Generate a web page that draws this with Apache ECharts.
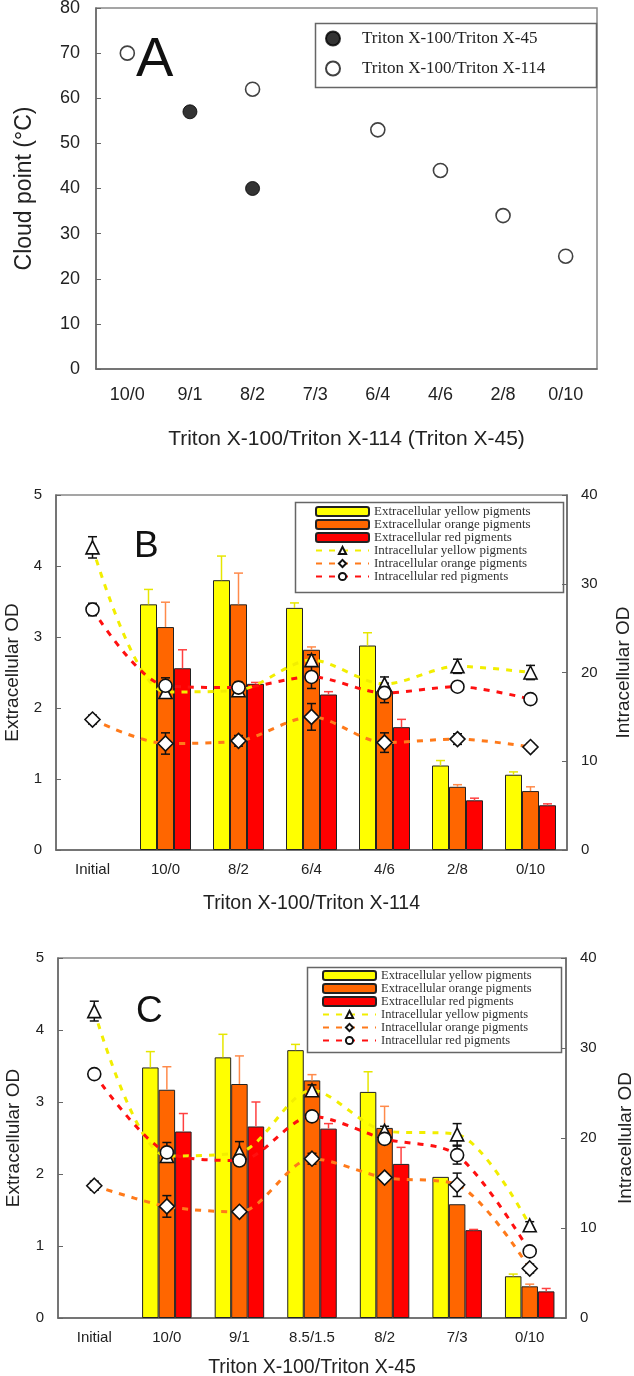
<!DOCTYPE html>
<html>
<head>
<meta charset="utf-8">
<script src="https://cdn.jsdelivr.net/npm/echarts@6/dist/echarts.min.js"></script>
<style>
html,body{margin:0;padding:0;background:#fff;}
#chart{width:634px;height:1376px;}
</style>
</head>
<body>
<div id="chart"></div>
<script>
// ---------- Panel A ----------
const catsA = ['10/0','9/1','8/2','7/3','6/4','4/6','2/8','0/10'];
const cloudX45  = [null, 57, 40, null, null, null, null, null];
const cloudX114 = [70, null, 62, null, 53, 44, 34, 25];

// ---------- Panel B ----------
const catsB = ['Initial','10/0','8/2','6/4','4/6','2/8','0/10'];
const bExtYellow    = [null, 3.46, 3.80, 3.41, 2.88, 1.19, 1.06];
const bExtYellowErr = [null, 0.21, 0.34, 0.07, 0.18, 0.07, 0.04];
const bExtOrange    = [null, 3.14, 3.46, 2.82, 2.24, 0.89, 0.83];
const bExtOrangeErr = [null, 0.35, 0.44, 0.04, 0.05, 0.03, 0.06];
const bExtRed       = [null, 2.56, 2.34, 2.19, 1.73, 0.70, 0.63];
const bExtRedErr    = [null, 0.26, 0.02, 0.04, 0.11, 0.03, 0.02];
const bIntYellow    = [34.1, 17.8, 18.0, 21.4, 18.7, 20.7, 20.0];
const bIntYellowErr = [1.2, 0.6, 0.5, 0.6, 0.8, 0.8, 0.8];
const bIntOrange    = [14.7, 12.0, 12.3, 15.0, 12.1, 12.5, 11.6];
const bIntOrangeErr = [0.5, 1.2, 0.6, 1.5, 1.1, 0.6, 0.4];
const bIntRed       = [27.1, 18.5, 18.3, 19.5, 17.7, 18.4, 17.0];
const bIntRedErr    = [0.7, 0.9, 0.6, 1.3, 1.1, 0.5, 0.4];

// ---------- Panel C ----------
const catsC = ['Initial','10/0','9/1','8.5/1.5','8/2','7/3','0/10'];
const cExtYellow    = [null, 3.48, 3.62, 3.72, 3.14, 1.96, 0.58];
const cExtYellowErr = [null, 0.22, 0.32, 0.08, 0.28, 0, 0.03];
const cExtOrange    = [null, 3.17, 3.25, 3.30, 2.64, 1.58, 0.44];
const cExtOrangeErr = [null, 0.32, 0.39, 0.08, 0.30, 0, 0.03];
const cExtRed       = [null, 2.59, 2.66, 2.63, 2.14, 1.22, 0.37];
const cExtRedErr    = [null, 0.25, 0.34, 0.07, 0.23, 0.01, 0.04];
const cIntYellow    = [34.1, 18.0, 18.4, 25.3, 20.8, 20.4, 10.3];
const cIntYellowErr = [1.1, 0.5, 1.2, 0.6, 0.5, 1.2, 0.4];
const cIntOrange    = [14.7, 12.4, 11.8, 17.7, 15.6, 14.8, 5.5];
const cIntOrangeErr = [0.5, 1.2, 0.4, 0.6, 0.4, 1.3, 0.5];
const cIntRed       = [27.1, 18.4, 17.5, 22.4, 19.9, 18.1, 7.4];
const cIntRedErr    = [0.4, 1.1, 0.5, 0.5, 0.5, 1.0, 0.5];

const legendNamesA = ['Triton X-100/Triton X-45', 'Triton X-100/Triton X-114'];
const legendNamesBC = ['Extracellular yellow pigments','Extracellular orange pigments','Extracellular red pigments',
  'Intracellular yellow pigments','Intracellular orange pigments','Intracellular red pigments'];

// ---------- styling ----------
const SANS = 'Liberation Sans, Arial, sans-serif';
const SERIF = 'Liberation Serif, Times New Roman, serif';
const TXT = '#222';
const AX = '#666';
const COL_Y = '#ffff00', COL_O = '#ff6600', COL_R = '#ff0000';
const LINE_Y = '#f2ee00', LINE_O = '#ff7a1a', LINE_R = '#ff1010';
const ERR_Y = '#e6e600', ERR_O = '#ff8a4a', ERR_R = '#ff4040';
const BW_B = 17, BW_C = 16.5;

function errData(vals, errs) {
  const out = [];
  vals.forEach((v, i) => { if (v != null && errs[i]) out.push([i, v, errs[i]]); });
  return out;
}
function errRender(offset, color, both, capW) {
  return function (params, api) {
    const x = api.value(0), v = api.value(1), e = api.value(2);
    const top = api.coord([x, v + e]);
    const mid = api.coord([x, v]);
    const bot = api.coord([x, both ? v - e : v]);
    const cx = mid[0] + offset;
    const st = { stroke: color, lineWidth: 1.5 };
    const ch = [
      { type: 'line', shape: { x1: cx, y1: bot[1], x2: cx, y2: top[1] }, style: st },
      { type: 'line', shape: { x1: cx - capW / 2, y1: top[1], x2: cx + capW / 2, y2: top[1] }, style: st }
    ];
    if (both) ch.push({ type: 'line', shape: { x1: cx - capW / 2, y1: bot[1], x2: cx + capW / 2, y2: bot[1] }, style: st });
    return { type: 'group', children: ch };
  };
}

function catAxis(gridIndex, cats, fontSize, margin, name, nameGap, nameSize) {
  return {
    type: 'category', gridIndex, data: cats, boundaryGap: true,
    axisLine: { lineStyle: { color: AX, width: 1.5 } },
    axisTick: { inside: true, length: 5, lineStyle: { color: AX } },
    axisLabel: { color: TXT, fontFamily: SANS, fontSize, margin },
    name, nameLocation: 'middle', nameGap,
    nameTextStyle: { color: TXT, fontFamily: SANS, fontSize: nameSize }
  };
}
function valAxis(gridIndex, pos, min, max, interval, fontSize, margin, name, nameGap, nameSize) {
  return {
    type: 'value', gridIndex, position: pos, min, max, interval,
    axisLine: { show: true, lineStyle: { color: AX, width: 1.5 } },
    axisTick: { show: true, inside: true, length: 5, lineStyle: { color: AX } },
    axisLabel: { color: TXT, fontFamily: SANS, fontSize, margin },
    splitLine: { show: false },
    name, nameLocation: 'middle', nameGap, nameRotate: 90,
    nameTextStyle: { color: TXT, fontFamily: SANS, fontSize: nameSize }
  };
}

function panelSeries(xi, yl, yr, bw, d) {
  const s = [];
  const barBase = { type: 'bar', xAxisIndex: xi, yAxisIndex: yl, barWidth: bw, barGap: '0%', z: 2 };
  s.push(Object.assign({}, barBase, { name: legendNamesBC[0], data: d.ey, itemStyle: { color: COL_Y, borderColor: '#222', borderWidth: 1 } }));
  s.push(Object.assign({}, barBase, { name: legendNamesBC[1], data: d.eo, itemStyle: { color: COL_O, borderColor: '#222', borderWidth: 1 } }));
  s.push(Object.assign({}, barBase, { name: legendNamesBC[2], data: d.er, itemStyle: { color: COL_R, borderColor: '#222', borderWidth: 1 } }));
  [[d.ey, d.eyE, -bw, ERR_Y], [d.eo, d.eoE, 0, ERR_O], [d.er, d.erE, bw, ERR_R]].forEach(a => {
    s.push({ type: 'custom', xAxisIndex: xi, yAxisIndex: yl, z: 3, silent: true,
      renderItem: errRender(a[2], a[3], false, 9), data: errData(a[0], a[1]) });
  });
  [[d.iy, d.iyE], [d.io, d.ioE], [d.ir, d.irE]].forEach(a => {
    s.push({ type: 'custom', xAxisIndex: xi, yAxisIndex: yr, z: 4, silent: true,
      renderItem: errRender(0, '#111', true, 9), data: errData(a[0], a[1]) });
  });
  const lineBase = { type: 'line', xAxisIndex: xi, yAxisIndex: yr, smooth: 0.3, z: 5, symbolSize: 13,
    itemStyle: { color: '#fff', borderColor: '#111', borderWidth: 1.6 } };
  s.push(Object.assign({}, lineBase, { name: legendNamesBC[3], data: d.iy, symbol: 'triangle',
    lineStyle: { color: LINE_Y, width: 3, type: [6, 7] } }));
  s.push(Object.assign({}, lineBase, { name: legendNamesBC[4], data: d.io, symbol: 'diamond', symbolSize: 15,
    lineStyle: { color: LINE_O, width: 3, type: [6, 7] } }));
  s.push(Object.assign({}, lineBase, { name: legendNamesBC[5], data: d.ir, symbol: 'circle',
    lineStyle: { color: LINE_R, width: 3, type: [6, 7] } }));
  return s;
}

function legendBC(left, top, font) {
  return {
    data: legendNamesBC, orient: 'vertical', left, top, padding: 0, itemGap: 0, z: 30,
    itemWidth: 53, itemHeight: 9, selectedMode: false,
    textStyle: { fontFamily: SERIF, fontSize: font, color: '#333', lineHeight: font }
  };
}

const option = {
  animation: false,
  backgroundColor: '#fff',
  grid: [
    { left: 96, right: 37, top: 8, height: 361, show: true, borderColor: '#888', borderWidth: 1.5, containLabel: false, outerBoundsMode: 'none' },
    { left: 56, right: 67, top: 495, height: 355, show: true, borderColor: '#888', borderWidth: 1.5, containLabel: false, outerBoundsMode: 'none' },
    { left: 58, right: 68, top: 958, height: 360, show: true, borderColor: '#888', borderWidth: 1.5, containLabel: false, outerBoundsMode: 'none' }
  ],
  xAxis: [
    catAxis(0, catsA, 18, 17, 'Triton X-100/Triton X-114 (Triton X-45)', 60, 21),
    catAxis(1, catsB, 15, 12, 'Triton X-100/Triton X-114', 44, 19.5),
    catAxis(2, catsC, 15, 12, 'Triton X-100/Triton X-45', 40, 19.5)
  ],
  yAxis: [
    valAxis(0, 'left', 0, 80, 10, 18, 16, 'Cloud point (°C)', 60, 23),
    valAxis(1, 'left', 0, 5, 1, 15, 14, 'Extracellular OD', 34, 19),
    valAxis(1, 'right', 0, 40, 10, 15, 14, 'Intracellular OD', 47, 19),
    valAxis(2, 'left', 0, 5, 1, 15, 14, 'Extracellular OD', 35, 19),
    valAxis(2, 'right', 0, 40, 10, 15, 14, 'Intracellular OD', 50, 19)
  ],
  legend: [
    { data: legendNamesA, orient: 'vertical', left: 325, top: 30, padding: 0, itemGap: 13,
      itemWidth: 14, itemHeight: 14, selectedMode: false,
      textStyle: { fontFamily: SERIF, fontSize: 17, color: '#222', padding: [0, 0, 0, 17] } },
    legendBC(315, 505, 13),
    legendBC(322, 969, 12.5)
  ],
  graphic: [
    { type: 'rect', left: 313, top: 21, shape: { width: 281, height: 64 }, style: { fill: 'none', stroke: '#666', lineWidth: 1.5 }, z: 1 },
    { type: 'rect', left: 293, top: 500, shape: { width: 268, height: 90 }, style: { fill: 'none', stroke: '#666', lineWidth: 1.5 }, z: 1 },
    { type: 'rect', left: 305, top: 965, shape: { width: 254, height: 85 }, style: { fill: 'none', stroke: '#666', lineWidth: 1.5 }, z: 1 },
    { type: 'text', left: 136, top: 33, style: { text: 'A', font: '56px Liberation Sans', fill: '#111' }, z: 20 },
    { type: 'text', left: 134, top: 528, style: { text: 'B', font: '37px Liberation Sans', fill: '#111' }, z: 20 },
    { type: 'text', left: 136, top: 993, style: { text: 'C', font: '37px Liberation Sans', fill: '#111' }, z: 20 }
  ],
  series: [
    { name: legendNamesA[0], type: 'scatter', xAxisIndex: 0, yAxisIndex: 0, data: cloudX45, symbol: 'circle', symbolSize: 14,
      itemStyle: { color: '#000', borderColor: '#000', borderWidth: 1 } },
    { name: legendNamesA[1], type: 'scatter', xAxisIndex: 0, yAxisIndex: 0, data: cloudX114, symbol: 'circle', symbolSize: 14,
      itemStyle: { color: '#fff', borderColor: '#111', borderWidth: 1.6 } }
  ].concat(
    panelSeries(1, 1, 2, BW_B, { ey: bExtYellow, eyE: bExtYellowErr, eo: bExtOrange, eoE: bExtOrangeErr, er: bExtRed, erE: bExtRedErr,
      iy: bIntYellow, iyE: bIntYellowErr, io: bIntOrange, ioE: bIntOrangeErr, ir: bIntRed, irE: bIntRedErr }),
    panelSeries(2, 3, 4, BW_C, { ey: cExtYellow, eyE: cExtYellowErr, eo: cExtOrange, eoE: cExtOrangeErr, er: cExtRed, erE: cExtRedErr,
      iy: cIntYellow, iyE: cIntYellowErr, io: cIntOrange, ioE: cIntOrangeErr, ir: cIntRed, irE: cIntRedErr })
  )
};

const chart = echarts.init(document.getElementById('chart'), null, { renderer: 'canvas' });
chart.setOption(option);
</script>
</body>
</html>
